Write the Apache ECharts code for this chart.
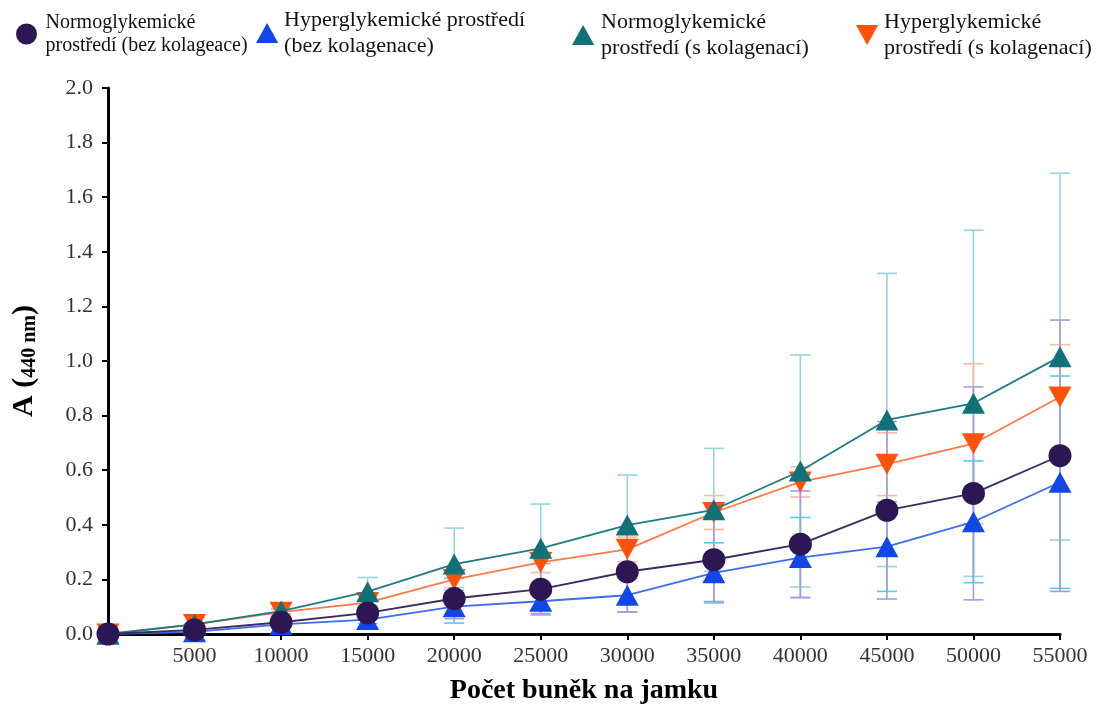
<!DOCTYPE html>
<html>
<head>
<meta charset="utf-8">
<script src="https://cdn.jsdelivr.net/npm/echarts@6/dist/echarts.min.js"></script>
<style>
  html, body { margin: 0; padding: 0; background: #ffffff; }
  #chart { width: 1101px; height: 707px; }
</style>
</head>
<body>
<div id="chart"></div>
<script>
// Number of cells seeded per well
const cellCounts = [0, 5000, 10000, 15000, 20000, 25000, 30000, 35000, 40000, 45000, 50000, 55000];

// Absorbance at 440 nm (mean) and standard deviation for each condition
const normoBez      = [0, 0.015, 0.043, 0.077, 0.130, 0.164, 0.228, 0.272, 0.329, 0.453, 0.515, 0.653];
const normoBezSd    = [0, 0.005, 0.010, 0.020, 0.074, 0.094, 0.147, 0.153, 0.195, 0.325, 0.390, 0.497];

const hyperBez      = [0, 0.008, 0.035, 0.053, 0.100, 0.120, 0.142, 0.224, 0.280, 0.320, 0.411, 0.556];
const hyperBezSd    = [0, 0.005, 0.010, 0.015, 0.060, 0.045, 0.062, 0.110, 0.147, 0.164, 0.223, 0.389];

const normoKol      = [0, 0.035, 0.084, 0.155, 0.256, 0.314, 0.399, 0.455, 0.597, 0.784, 0.845, 1.016];
const normoKolSd    = [0, 0.005, 0.010, 0.052, 0.132, 0.162, 0.183, 0.225, 0.425, 0.537, 0.634, 0.672];

const hyperKol      = [0, 0.035, 0.080, 0.115, 0.200, 0.262, 0.310, 0.445, 0.557, 0.622, 0.697, 0.868];
const hyperKolSd    = [0, 0.005, 0.010, 0.035, 0.030, 0.037, 0.045, 0.062, 0.055, 0.115, 0.293, 0.192];

// Series names and their two-line legend captions
const seriesNames = ['normoBez', 'hyperBez', 'normoKol', 'hyperKol'];
const legendCaptions = {
  normoBez: 'Normoglykemické\nprostředí (bez kolageace)',
  hyperBez: 'Hyperglykemické prostředí\n(bez kolagenace)',
  normoKol: 'Normoglykemické\nprostředí (s kolagenací)',
  hyperKol: 'Hyperglykemické\nprostředí (s kolagenací)'
};

const xAxisTitle = 'Počet buněk na jamku';
const yAxisTitleMain = 'A (';
const yAxisTitleSub = '440 nm';
const yAxisTitleEnd = ')';

const SERIF = '"Liberation Serif", "Times New Roman", serif';
const UP_TRI = 'path://M10,0L20,18L0,18Z';
const DOWN_TRI = 'path://M0,0L20,0L10,18Z';

const palette = {
  normoBez: { marker: '#2c1654', line: '#3b2a5e', err: '#a99be0' },
  hyperBez: { marker: '#1247e6', line: '#3d6cf0', err: '#52cdf2' },
  normoKol: { marker: '#117178', line: '#1d7b81', err: '#97d5da' },
  hyperKol: { marker: '#ff5107', line: '#ff7a45', err: '#f7b9a3' }
};

function pairs(values) {
  return cellCounts.map((x, i) => [x, values[i]]);
}

// Vertical error bar with caps for each point
function errorBars(key, values, sds, z) {
  const color = palette[key].err;
  return {
    type: 'custom',
    id: key + 'Err',
    z: z,
    silent: true,
    data: cellCounts.map((x, i) => [x, values[i] - sds[i], values[i] + sds[i]]),
    encode: { x: 0, y: [1, 2] },
    renderItem: function (params, api) {
      const x = api.value(0);
      const lo = api.coord([x, api.value(1)]);
      const hi = api.coord([x, api.value(2)]);
      if (Math.abs(lo[1] - hi[1]) < 0.5) return { type: 'group', children: [] };
      const hw = 10;
      const style = { stroke: color, lineWidth: 1.6 };
      return {
        type: 'group',
        children: [
          { type: 'line', shape: { x1: lo[0], y1: lo[1], x2: hi[0], y2: hi[1] }, style: style },
          { type: 'line', shape: { x1: lo[0] - hw, y1: lo[1], x2: lo[0] + hw, y2: lo[1] }, style: style },
          { type: 'line', shape: { x1: hi[0] - hw, y1: hi[1], x2: hi[0] + hw, y2: hi[1] }, style: style }
        ]
      };
    }
  };
}

function lineSeries(key, values, symbol, size, z) {
  return {
    type: 'line',
    name: key,
    z: z,
    data: pairs(values),
    symbol: symbol,
    symbolSize: size,
    showAllSymbol: true,
    lineStyle: { color: palette[key].line, width: 1.8 },
    itemStyle: { color: palette[key].marker, borderWidth: 0 },
    emphasis: { disabled: true },
    animation: false
  };
}

function legendItem(key, icon, left, top, iw, ih, fontSize, lineHeight) {
  return {
    data: [{ name: key, icon: icon }],
    left: left,
    top: top,
    padding: 0,
    itemWidth: iw,
    itemHeight: ih,
    symbolRotate: 0,
    selectedMode: false,
    formatter: function (name) { return legendCaptions[name]; },
    textStyle: { fontFamily: SERIF, fontSize: fontSize, lineHeight: lineHeight, color: '#111111' }
  };
}

const chart = echarts.init(document.getElementById('chart'), null, { renderer: 'canvas' });

const option = {
  backgroundColor: '#ffffff',
  animation: false,
  grid: { left: 108, right: 41, top: 88, bottom: 73, containLabel: false, outerBoundsMode: 'none' },
  legend: [
    legendItem('normoBez', 'circle', 16, 11, 28, 21, 20, 23),
    legendItem('hyperBez', UP_TRI, 256, 7, 24, 20, 22, 26),
    legendItem('normoKol', UP_TRI, 572, 9, 26, 20, 22, 26),
    legendItem('hyperKol', DOWN_TRI, 856, 9, 24, 20, 22, 26)
  ],
  xAxis: {
    type: 'value',
    min: 0,
    max: 55000,
    interval: 5000,
    splitLine: { show: false },
    axisLine: { show: true, onZero: false, lineStyle: { color: '#000000', width: 3 } },
    axisTick: { show: true, inside: false, length: 6, lineStyle: { color: '#000000', width: 2 } },
    axisLabel: {
      margin: 11,
      fontFamily: SERIF,
      fontSize: 22,
      color: '#333333',
      formatter: function (v) { return v === 0 ? '' : String(v); }
    },
    name: xAxisTitle,
    nameLocation: 'middle',
    nameGap: 43,
    nameTextStyle: { fontFamily: SERIF, fontSize: 28, fontWeight: 'bold', color: '#000000' }
  },
  yAxis: {
    type: 'value',
    min: 0,
    max: 2,
    interval: 0.2,
    splitLine: { show: false },
    axisLine: { show: true, onZero: false, lineStyle: { color: '#000000', width: 3 } },
    axisTick: { show: true, inside: false, length: 6, lineStyle: { color: '#000000', width: 2 } },
    axisLabel: {
      margin: 15,
      fontFamily: SERIF,
      fontSize: 22,
      color: '#333333',
      formatter: function (v) { return v.toFixed(1); }
    },
    name: '{m|' + yAxisTitleMain + '}{s|' + yAxisTitleSub + '}{m|' + yAxisTitleEnd + '}',
    nameLocation: 'middle',
    nameRotate: 90,
    nameGap: 68,
    nameTextStyle: {
      rich: {
        m: { fontFamily: SERIF, fontSize: 30, fontWeight: 'bold', color: '#000000', lineHeight: 32, verticalAlign: 'middle' },
        s: { fontFamily: SERIF, fontSize: 20, fontWeight: 'bold', color: '#000000', lineHeight: 15, verticalAlign: 'bottom' }
      }
    }
  },
  series: [
    errorBars('normoKol', normoKol, normoKolSd, 1),
    errorBars('hyperKol', hyperKol, hyperKolSd, 1),
    errorBars('hyperBez', hyperBez, hyperBezSd, 1),
    errorBars('normoBez', normoBez, normoBezSd, 1),
    lineSeries('hyperBez', hyperBez, 'triangle', [23, 21], 3),
    lineSeries('hyperKol', hyperKol, DOWN_TRI, [23, 21], 4),
    lineSeries('normoKol', normoKol, 'triangle', [23, 21], 5),
    lineSeries('normoBez', normoBez, 'circle', 23, 6)
  ]
};

chart.setOption(option);
</script>
</body>
</html>
